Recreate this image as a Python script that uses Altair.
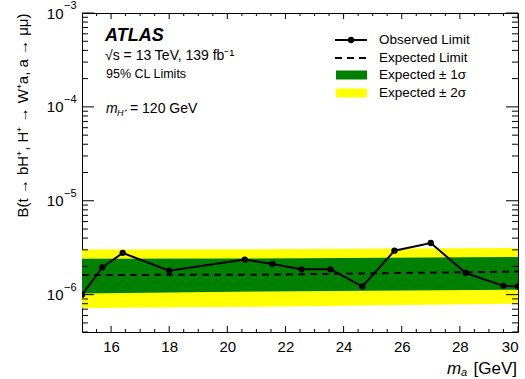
import altair as alt
import pandas as pd

FONT = "Liberation Sans"

# Observed 95% CL upper limit on the branching ratio
mass_obs = [15.0, 15.7, 16.4, 18.0, 20.6, 21.55, 22.55, 23.55, 24.65, 25.75, 27.0, 28.2, 29.5, 30.0]
limit_obs = [1.00e-6, 1.95e-6, 2.78e-6, 1.80e-6, 2.36e-6, 2.12e-6, 1.86e-6, 1.86e-6,
             1.22e-6, 2.94e-6, 3.55e-6, 1.70e-6, 1.24e-6, 1.22e-6]

# Expected limit and its +-1 sigma / +-2 sigma bands
mass_exp = [15.0, 21.1, 30.0]
limit_exp = [1.62e-6, 1.63e-6, 1.76e-6]
band1_lo = [1.03e-6, 1.08e-6, 1.13e-6]
band1_hi = [2.41e-6, 2.43e-6, 2.52e-6]
band2_lo = [0.72e-6, 0.745e-6, 0.80e-6]
band2_hi = [3.03e-6, 3.05e-6, 3.14e-6]

# Axis ranges and tick positions
x_domain = [15, 30]
y_domain = [4e-7, 1e-3]
x_major = [16, 18, 20, 22, 24, 26, 28, 30]
x_minor = [15.5, 16.5, 17, 17.5, 18.5, 19, 19.5, 20.5, 21, 21.5, 22.5, 23, 23.5,
           24.5, 25, 25.5, 26.5, 27, 27.5, 28.5, 29, 29.5]
y_major = [1e-6, 1e-5, 1e-4, 1e-3]
y_exponents = ["−6", "−5", "−4", "−3"]
y_minor = [4e-7, 5e-7, 6e-7, 7e-7, 8e-7, 9e-7,
           2e-6, 3e-6, 4e-6, 5e-6, 6e-6, 7e-6, 8e-6, 9e-6,
           2e-5, 3e-5, 4e-5, 5e-5, 6e-5, 7e-5, 8e-5, 9e-5,
           2e-4, 3e-4, 4e-4, 5e-4, 6e-4, 7e-4, 8e-4, 9e-4]

W, H = 436, 319
GREEN = "#008000"
YELLOW = "#ffff00"

obs = pd.DataFrame({"m": mass_obs, "lim": limit_obs})
exp = pd.DataFrame({"m": mass_exp, "lim": limit_exp,
                    "lo1": band1_lo, "hi1": band1_hi,
                    "lo2": band2_lo, "hi2": band2_hi})

xs = alt.Scale(domain=x_domain, nice=False, zero=False)
ys = alt.Scale(type="log", domain=y_domain, nice=False)

x_axis = alt.Axis(values=x_major, title=None, labelFontSize=15, labelPadding=7,
                  labelFont=FONT)
# "10" is the axis label; the exponent is drawn as a raised text layer beside it
y_axis = alt.Axis(values=y_major, labelFontSize=15, labelPadding=19, labelFont=FONT,
                  labelExpr="'10'",
                  title="B(t → bH⁺, H⁺ → W⁺a, a → μμ)", titleFontSize=15,
                  titleFont=FONT, titleFontWeight="normal", titleAngle=-90,
                  titleX=-60, titleY=0, titleAlign="right", titleBaseline="middle")

band2 = alt.Chart(exp).mark_area(color=YELLOW, clip=True).encode(
    x=alt.X("m:Q", scale=xs, axis=x_axis),
    y=alt.Y("lo2:Q", scale=ys, axis=y_axis),
    y2="hi2:Q")
band1 = alt.Chart(exp).mark_area(color=GREEN, clip=True).encode(
    x="m:Q", y="lo1:Q", y2="hi1:Q")
exp_line = alt.Chart(exp).mark_line(color="black", strokeWidth=2, strokeDash=[7, 5],
                                    clip=True).encode(x="m:Q", y="lim:Q")
obs_line = alt.Chart(obs).mark_line(color="black", strokeWidth=2, clip=True).encode(
    x="m:Q", y="lim:Q")
obs_pts = alt.Chart(obs).mark_point(filled=True, color="black", size=40, opacity=1,
                                    clip=True).encode(x="m:Q", y="lim:Q")

exponents = alt.Chart(pd.DataFrame({"lim": y_major, "e": y_exponents})).mark_text(
    font=FONT, fontSize=11, align="left", baseline="middle", dx=0, dy=-7,
    color="black").encode(y="lim:Q", x=alt.value(-18), text="e:N")


def xticks(vals, length):
    d = pd.DataFrame({"m": vals})
    bottom = alt.Chart(d).mark_rule(color="black", strokeWidth=1).encode(
        x="m:Q", y=alt.value(H), y2=alt.value(H - length))
    top = alt.Chart(d).mark_rule(color="black", strokeWidth=1).encode(
        x="m:Q", y=alt.value(0), y2=alt.value(length))
    return [bottom, top]


def yticks(vals, length):
    d = pd.DataFrame({"lim": vals})
    left = alt.Chart(d).mark_rule(color="black", strokeWidth=1).encode(
        y="lim:Q", x=alt.value(0), x2=alt.value(length))
    right = alt.Chart(d).mark_rule(color="black", strokeWidth=1).encode(
        y="lim:Q", x=alt.value(W), x2=alt.value(W - length))
    return [left, right]


def label(text, x, y, size=14, style="normal", weight="normal", align="left"):
    return alt.Chart(pd.DataFrame({"t": [text]})).mark_text(
        font=FONT, fontSize=size, fontStyle=style, fontWeight=weight,
        align=align, baseline="middle", color="black").encode(
        text="t:N", x=alt.value(x), y=alt.value(y))


# Annotations
notes = [
    label("ATLAS", 23, 23, size=18, style="italic", weight="bold"),
    label("√s = 13 TeV, 139 fb⁻¹", 23, 43, size=14),
    label("95% CL Limits", 24, 61, size=12.5),
    label("m", 24, 96, size=14, style="italic"),
    label("H⁺", 35, 100, size=9, style="italic"),
    label("= 120 GeV", 48, 96, size=14),
    # x-axis title
    label("m", 365, 356, size=17, style="italic"),
    label("a", 379, 360, size=11, style="italic"),
    label("[GeV]", 435, 356, size=17, align="right"),
]

# Legend
LX0, LX1, LT = 253, 285, 297
rows = [27, 45, 62, 80]
legend = [
    alt.Chart(pd.DataFrame({"t": [0]})).mark_rule(color="black", strokeWidth=2).encode(
        x=alt.value(LX0), x2=alt.value(LX1), y=alt.value(rows[0])),
    alt.Chart(pd.DataFrame({"t": [0]})).mark_point(filled=True, color="black", size=40,
                                                   opacity=1).encode(
        x=alt.value((LX0 + LX1) / 2), y=alt.value(rows[0])),
    alt.Chart(pd.DataFrame({"t": [0]})).mark_rule(color="black", strokeWidth=2,
                                                  strokeDash=[7, 5]).encode(
        x=alt.value(LX0), x2=alt.value(LX1), y=alt.value(rows[1])),
    alt.Chart(pd.DataFrame({"t": [0]})).mark_rect(color=GREEN).encode(
        x=alt.value(LX0 + 1), x2=alt.value(LX1), y=alt.value(rows[2] - 4.5),
        y2=alt.value(rows[2] + 4.5)),
    alt.Chart(pd.DataFrame({"t": [0]})).mark_rect(color=YELLOW).encode(
        x=alt.value(LX0 + 1), x2=alt.value(LX1), y=alt.value(rows[3] - 4.5),
        y2=alt.value(rows[3] + 4.5)),
    label("Observed Limit", LT, rows[0], size=13.5),
    label("Expected Limit", LT, rows[1], size=13.5),
    label("Expected ± 1σ", LT, rows[2], size=13.5),
    label("Expected ± 2σ", LT, rows[3], size=13.5),
]

layers = ([band2, band1, exp_line, obs_line, obs_pts, exponents]
          + xticks(x_major, 6) + xticks(x_minor, 3)
          + yticks(y_major, 12) + yticks(y_minor, 6)
          + notes + legend)

chart = alt.layer(*layers).properties(
    width=W, height=H,
    autosize=alt.AutoSizeParams(type="none"),
    padding={"left": 82, "top": 13, "right": 7, "bottom": 47},
    background="white",
).configure_view(stroke="black", strokeWidth=1).configure_axis(
    grid=False, domain=False, ticks=False, labelColor="black", titleColor="black")

chart.save("out.html", embed_options={"renderer": "svg", "actions": False})
